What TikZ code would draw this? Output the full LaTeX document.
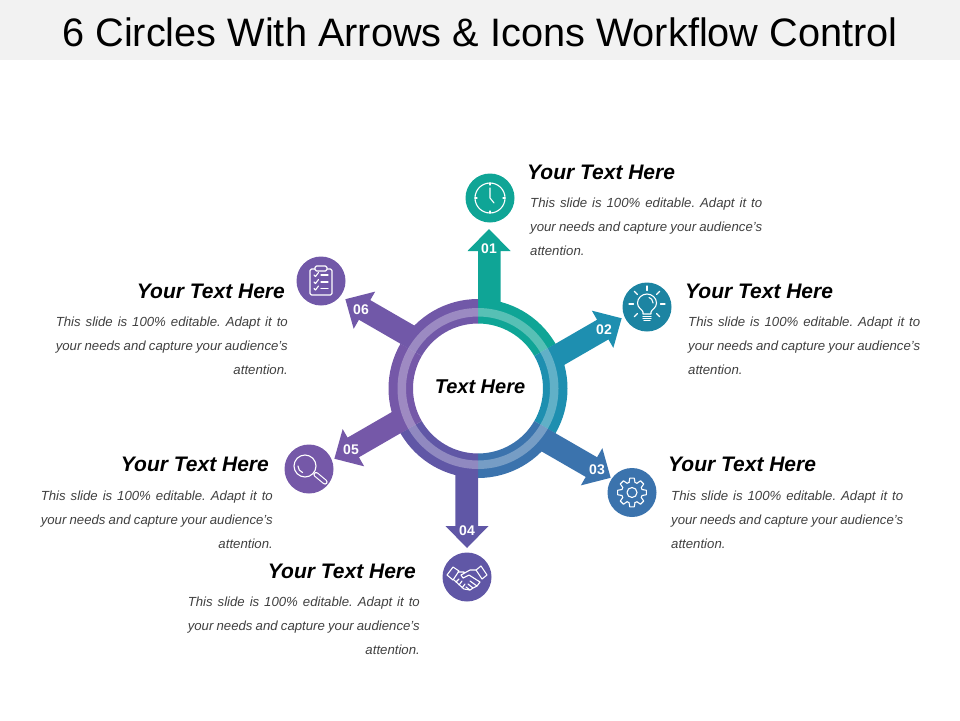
\documentclass[tikz,border=0pt]{standalone}
\usepackage{fontspec}
\setmainfont{Liberation Sans}
\definecolor{tealc}{HTML}{0FA596}
\definecolor{cyanc}{HTML}{1E8FB0}
\definecolor{bluec}{HTML}{3B73AD}
\definecolor{indigoc}{HTML}{6057A6}
\definecolor{violetc}{HTML}{7558A8}
\definecolor{purplec}{HTML}{7158A8}
\definecolor{bandc}{HTML}{F2F2F2}
\definecolor{bodyc}{HTML}{404040}
\tikzset{
	heading/.style={font=\fontsize{21}{24}\selectfont\bfseries\itshape,inner sep=0pt},
	numtext/.style={font=\fontsize{14}{16}\selectfont\bfseries,text=white,inner sep=0pt},
	bodyright/.style={font=\fontsize{13.2}{24}\selectfont\itshape\frenchspacing,text=bodyc,inner sep=0pt,align=left},
	bodyleft/.style={font=\fontsize{13.2}{24}\selectfont\itshape\frenchspacing,text=bodyc,inner sep=0pt,align=right},
	iconcirc/.style={circle,inner sep=0pt,minimum size=49pt},
	iconline/.style={draw=white,line width=1.1pt,line cap=round,line join=round}
}
\newcommand{\slidelines}{\makebox[232pt][s]{This slide is 100\% editable. Adapt it to}\\\makebox[232pt][s]{your needs and capture your audience's}\\attention.}
\begin{document}
\begin{tikzpicture}[x=1pt,y=-1pt]
	\useasboundingbox (0,0) rectangle (960,720);
	\fill[bandc] (0,0) rectangle (960,60);
	\node[font=\fontsize{39.7}{44}\selectfont,inner sep=0pt] (title) at (480,32) {6 Circles With Arrows \& Icons Workflow Control};
	% arrows
	\foreach \idx/\rot/\col/\lx/\ly in {01/0/tealc/489/249,02/-60/cyanc/604/330,03/-120/bluec/597/470,04/-180/indigoc/467/531,05/-240/violetc/351/450,06/-300/purplec/361/310}{
		\begin{scope}[shift={(478,388.5)},rotate=\rot]
			\fill[\col] (0,-70) -- (0,-137.5) -- (-10.5,-137.5) -- (11,-159.5) -- (32.5,-137.5) -- (22.7,-137.5) -- (22.7,-70) -- cycle;
		\end{scope}
		\node[numtext] (num\idx) at (\lx,\ly) {\idx};
	}
	% ring
	\begin{scope}[shift={(478,388.5)}]
		\foreach \a/\b/\col in {-90/-30/tealc,-30/30/cyanc,30/90/bluec,90/150/indigoc,150/210/violetc,210/270/purplec}{
			\fill[\col] (\a:89.5) arc[start angle=\a,end angle=\b,radius=89.5] -- (\b:65) arc[start angle=\b,end angle=\a,radius=65] -- cycle;
		}
		\fill[white,opacity=0.3,even odd rule] (0,0) circle (80.5) (0,0) circle (72);
	\end{scope}
	\node[font=\fontsize{20}{24}\selectfont\bfseries\itshape,inner sep=0pt] (centre) at (480,387) {Text Here};
	% clock
	\node[iconcirc,fill=tealc] (clock) at (490,198) {};
	\begin{scope}[shift={(clock.center)}]
		\draw[iconline] (0,0) circle (15);
		\draw[iconline] (0,-15) -- (0,-13) (15,0) -- (13,0) (0,15) -- (0,13) (-15,0) -- (-13,0);
		\draw[iconline] (0,-10) -- (0,0) -- (4,5);
	\end{scope}
	% bulb
	\node[iconcirc,fill=cyanc!92!black] (bulb) at (647,307) {};
	\begin{scope}[shift={(bulb.center)}]
		\foreach \ang in {-180,-135,-90,-45,0,45,135}{
			\draw[iconline] (\ang:13.5) ++(0,-3) -- ++(\ang:4.5);
		}
		\draw[iconline] (-4,7) -- (-4,5) .. controls (-5,2) and (-9.5,1) .. (-9.5,-4) .. controls (-9.5,-9) and (-5,-13) .. (0,-13) .. controls (5,-13) and (9.5,-9) .. (9.5,-4) .. controls (9.5,1) and (5,2) .. (4,5) -- (4,7) -- cycle;
		\draw[iconline] (2,-9.5) .. controls (4,-9) and (6,-7) .. (6,-4);
		\draw[iconline] (-4,9.5) -- (4,9.5) (-4,11.5) -- (4,11.5) (-3,13.5) -- (3,13.5);
	\end{scope}
	% gear
	\node[iconcirc,fill=bluec] (gear) at (632,492.5) {};
	\begin{scope}[shift={(gear.center)}]
		\foreach \ang in {0,45,...,315}{
			\draw[iconline] (\ang-22.5+6:10.5) -- (\ang-9:14.5) -- (\ang+9:14.5) -- (\ang+22.5-6:10.5) arc[start angle=\ang+16.5,end angle=\ang+28.5,radius=10.5];
		}
		\draw[iconline] (0,0) circle (5);
	\end{scope}
	% handshake
	\node[iconcirc,fill=indigoc] (shake) at (467,577) {};
	\begin{scope}[shift={(shake.center)}]
		\draw[iconline] (-20,-2) -- (-14,-10) -- (-8,-6) -- (-14,3) -- cycle;
		\draw[iconline] (20,-2) -- (14,-11) -- (9,-7) -- (15,2) -- cycle;
		\draw[iconline] (-9,-5) -- (-3,-5) (9,-7) -- (3,-7) -- (-6,-2) -- (-4,1) -- (2,-2) -- (13,5) -- (10,9) -- (3,4);
		\draw[iconline] (10,9) -- (6,11) -- (1,7) (6,11) -- (3,13) -- (-1,10);
		\draw[iconline] (3,13) -- (-3,12) -- (-13,3);
		\draw[iconline] (-11,5) -- (-8,2) (-8,8) -- (-5,4) (-5,11) -- (-2,7);
	\end{scope}
	% magnifier
	\node[iconcirc,fill=violetc] (lens) at (309,469) {};
	\begin{scope}[shift={(lens.center)}]
		\draw[iconline] (-4,-3) circle (11);
		\draw[iconline] (-11,-3) arc[start angle=180,end angle=110,radius=7];
		\draw[white,line width=5.2pt,line cap=round] (7,5.5) -- (16,13);
		\draw[violetc,line width=3pt,line cap=round] (7,5.5) -- (16,13);
	\end{scope}
	% clipboard
	\node[iconcirc,fill=purplec] (board) at (321,281) {};
	\begin{scope}[shift={(board.center)}]
		\draw[iconline,rounded corners=1.5pt] (-6,-12) -- (-11,-12) -- (-11,14) -- (11,14) -- (11,-12) -- (6,-12);
		\draw[iconline,rounded corners=1.5pt,fill=purplec] (-6,-15) rectangle (6,-10);
		\foreach \yy in {-6,1,7.5}{
			\draw[iconline] (-7,\yy) -- (-5.5,\yy+1.5) -- (-2.5,\yy-2.5);
			\draw[iconline] (0,\yy) -- (7,\yy);
		}
	\end{scope}
	% text
	\node[heading,anchor=west] (head01) at (527,172) {Your Text Here};
	\node[bodyright,anchor=west] (body01) at (530,226.5) {\slidelines};
	\node[heading,anchor=west] (head02) at (685,291) {Your Text Here};
	\node[bodyright,anchor=west] (body02) at (688,345.5) {\slidelines};
	\node[heading,anchor=west] (head03) at (668,464) {Your Text Here};
	\node[bodyright,anchor=west] (body03) at (671,519.5) {\slidelines};
	\node[heading,anchor=east] (head04) at (416,571) {Your Text Here};
	\node[bodyleft,anchor=east] (body04) at (420,625.5) {\slidelines};
	\node[heading,anchor=east] (head05) at (269,464) {Your Text Here};
	\node[bodyleft,anchor=east] (body05) at (273,519.5) {\slidelines};
	\node[heading,anchor=east] (head06) at (285,291) {Your Text Here};
	\node[bodyleft,anchor=east] (body06) at (288,345.5) {\slidelines};
\end{tikzpicture}
\end{document}
